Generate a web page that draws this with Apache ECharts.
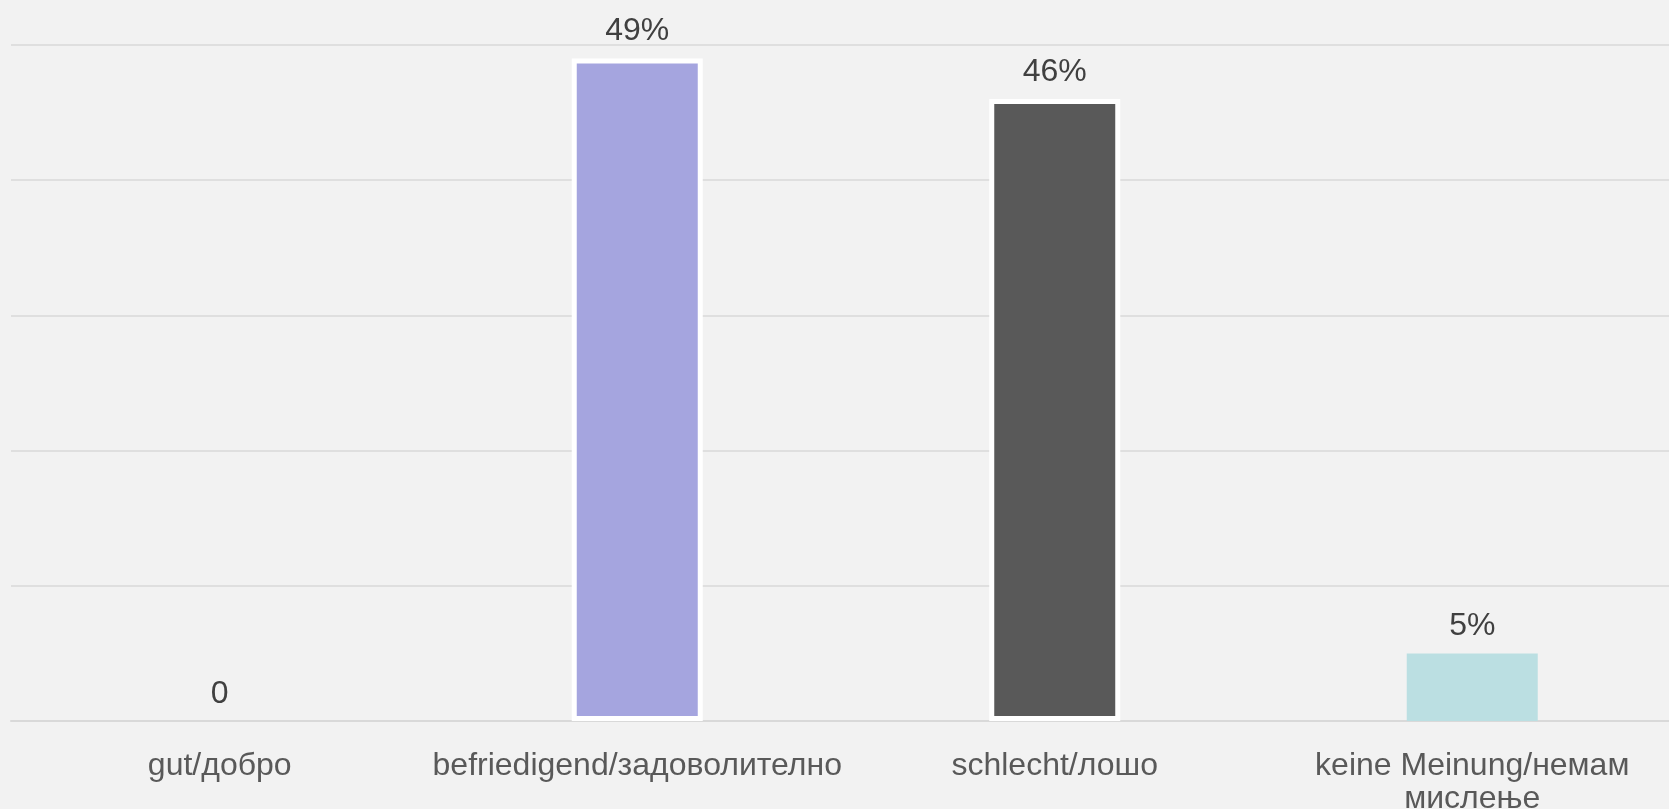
<!DOCTYPE html>
<html>
<head>
<meta charset="utf-8">
<script src="https://cdn.jsdelivr.net/npm/echarts@6/dist/echarts.min.js"></script>
<style>
html,body{margin:0;padding:0;background:#f2f2f2;}
#chart{width:1669px;height:809px;}
</style>
</head>
<body>
<div id="chart"></div>
<script>
const categories = ['gut/добро', 'befriedigend/задоволително', 'schlecht/лошо', 'keine Meinung/немам мислење'];
const values = [0, 49, 46, 5];
const yTicks = { min: 0, max: 50, interval: 10 };

const barColors = ['#a5a5df', '#a5a5df', '#595959', '#bbdfe2'];
const barBorders = [0, 5, 5, 0];

const chart = echarts.init(document.getElementById('chart'));
chart.setOption({
  backgroundColor: '#f2f2f2',
  animation: false,
  textStyle: { fontFamily: 'Liberation Sans, Arial, sans-serif' },
  grid: { left: 11, width: 1670, top: 45, bottom: 88, containLabel: false, outerBoundsMode: 'none' },
  xAxis: {
    type: 'category',
    data: categories,
    axisTick: { show: false },
    axisLine: { show: true, lineStyle: { color: '#d9d9d9', width: 2 } },
    axisLabel: {
      color: '#595959', fontSize: 32, margin: 29, lineHeight: 33,
      interval: 0, align: 'center', hideOverlap: false,
      formatter: v => v.split(' ').length > 2 ? v.replace(/ (\S+)$/, '\n$1') : v
    }
  },
  yAxis: {
    type: 'value', min: yTicks.min, max: yTicks.max, interval: yTicks.interval,
    axisLabel: { show: false }, axisTick: { show: false }, axisLine: { show: false },
    splitLine: { lineStyle: { color: '#d9d9d9', width: 1.5 } }
  },
  series: [{
    type: 'bar',
    barWidth: 131,
    data: values.map((v, i) => ({
      value: v,
      itemStyle: { color: barColors[i], borderColor: '#ffffff', borderWidth: barBorders[i] }
    })),
    label: {
      show: true, position: 'top', distance: 11,
      color: '#404040', fontSize: 32,
      formatter: p => p.value === 0 ? '0' : p.value + '%'
    }
  }]
});
</script>
</body>
</html>
